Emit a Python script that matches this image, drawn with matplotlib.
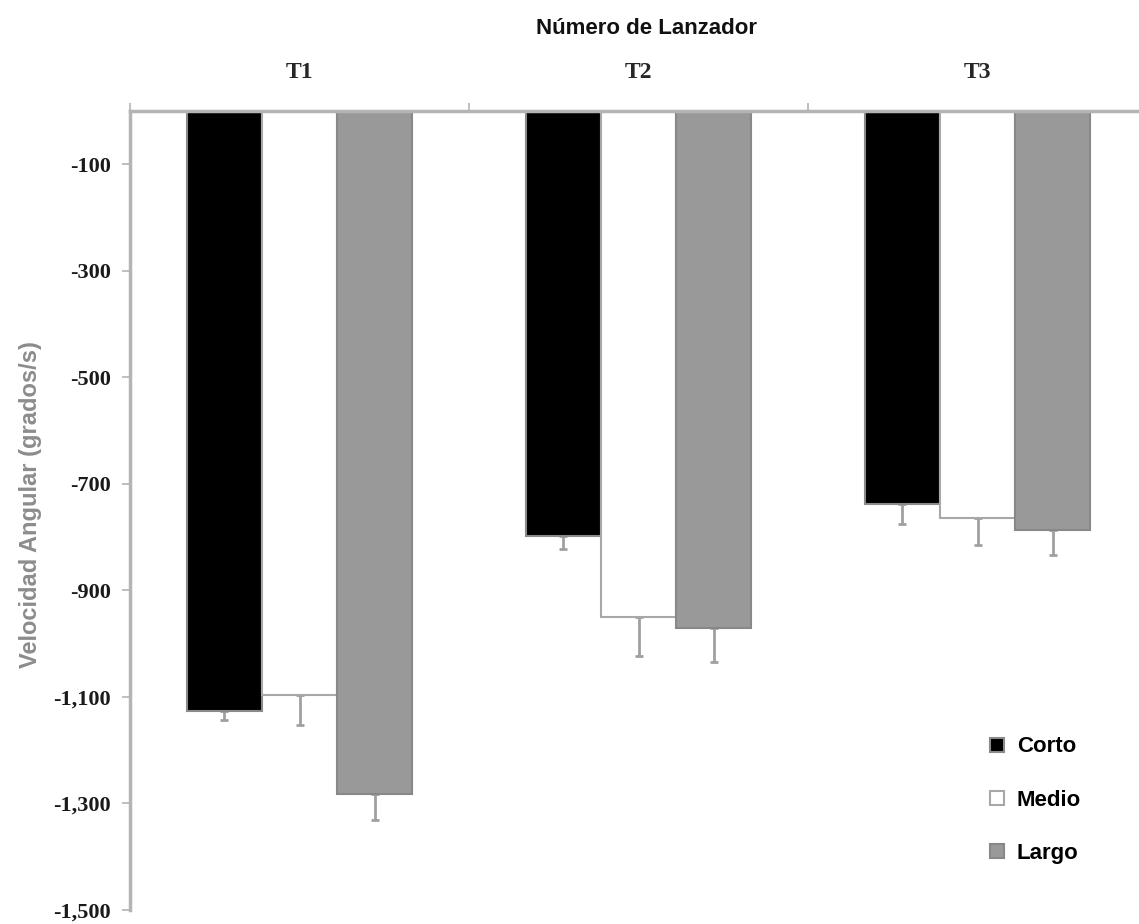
import matplotlib
matplotlib.use("Agg")
import matplotlib.pyplot as plt
import matplotlib.transforms as mtransforms
from matplotlib.lines import Line2D
from matplotlib.ticker import FuncFormatter
import numpy as np

# data
groups = ["T1", "T2", "T3"]
series = ["Corto", "Medio", "Largo"]
corto = [-1126, -797, -737]
medio = [-1096, -949, -765]
largo = [-1282, -970, -786]
corto_err = [17, 26, 39]
medio_err = [56, 74, 49]
largo_err = [49, 64, 47]
yticks = [-100, -300, -500, -700, -900, -1100, -1300, -1500]

colors = ["#000000", "#ffffff", "#999999"]
edges = ["#8a8a8a", "#a8a8a8", "#888888"]
spine_col = "#b4b4b4"

fig = plt.figure(figsize=(11.39, 9.24), dpi=100)
ax = fig.add_axes([130 / 1139, 1 - 910 / 924, 1 - 130 / 1139, (910 - 111) / 924])

x = np.arange(len(groups)) + 0.5
w = 0.222
vals = [corto, medio, largo]
errs = [corto_err, medio_err, largo_err]
for i, (v, e) in enumerate(zip(vals, errs)):
    xs = x + (i - 1) * w
    ax.bar(xs, v, width=w, color=colors[i], edgecolor=edges[i], linewidth=1.5, zorder=2)
    # only the downward half of the error bar is shown
    ax.errorbar(xs, v, yerr=[e, [0] * len(e)], fmt="none", ecolor="#a0a0a0",
                elinewidth=2, capsize=3, capthick=2, zorder=1)

ax.set_xlim(0, 3 - 8 / 339)
ax.set_ylim(-1500, 0)

# spines
for s in ["right", "bottom"]:
    ax.spines[s].set_visible(False)
for s in ["left", "top"]:
    ax.spines[s].set_color(spine_col)
    ax.spines[s].set_linewidth(2.5)

ax.set_yticks(yticks)
ax.yaxis.set_major_formatter(FuncFormatter(lambda v, p: f"{v:,.0f}"))
ax.tick_params(axis="y", length=6, width=1.2, color=spine_col, pad=8,
               labelsize=16, labelcolor="#1a1a1a")
for lab in ax.get_yticklabels():
    lab.set_fontfamily("Liberation Serif")
    lab.set_fontweight("bold")

# top axis: category boundaries with ticks, group names centred above
ax.xaxis.tick_top()
ax.set_xticks([0, 1, 2])
ax.set_xticklabels([])
ax.tick_params(axis="x", length=6, width=1.2, color=spine_col)
trans = mtransforms.blended_transform_factory(ax.transData, fig.transFigure)
for xi, g in zip(x, groups):
    ax.text(xi, 1 - 72 / 924, g, transform=trans, ha="center", va="center",
            fontsize=17, family="Liberation Serif", fontweight="bold", color="#262626")

fig.text(647 / 1139, 1 - 28 / 924, "Número de Lanzador", ha="center", va="center",
         fontsize=16, fontweight="bold", family="Liberation Sans", color="#111111")

fig.text(31 / 1139, 1 - 505 / 924, "Velocidad Angular (grados/s)", rotation=90,
         ha="center", va="center", fontsize=17, fontweight="bold",
         family="Liberation Sans", color="#8c8c8c")

handles = [Line2D([0], [0], marker="s", linestyle="none", markersize=10,
                  markerfacecolor=colors[i], markeredgecolor=edges[i],
                  markeredgewidth=1.5, label=series[i]) for i in range(3)]
ax.legend(handles=handles, loc="center left",
          bbox_to_anchor=(968 / 1139, 1 - 800 / 924), bbox_transform=fig.transFigure,
          frameon=False, handlelength=0.8, handletextpad=0.5, labelspacing=1.45,
          prop={"family": "Liberation Sans", "weight": "bold", "size": 16})

fig.savefig("out.png", dpi=100)
